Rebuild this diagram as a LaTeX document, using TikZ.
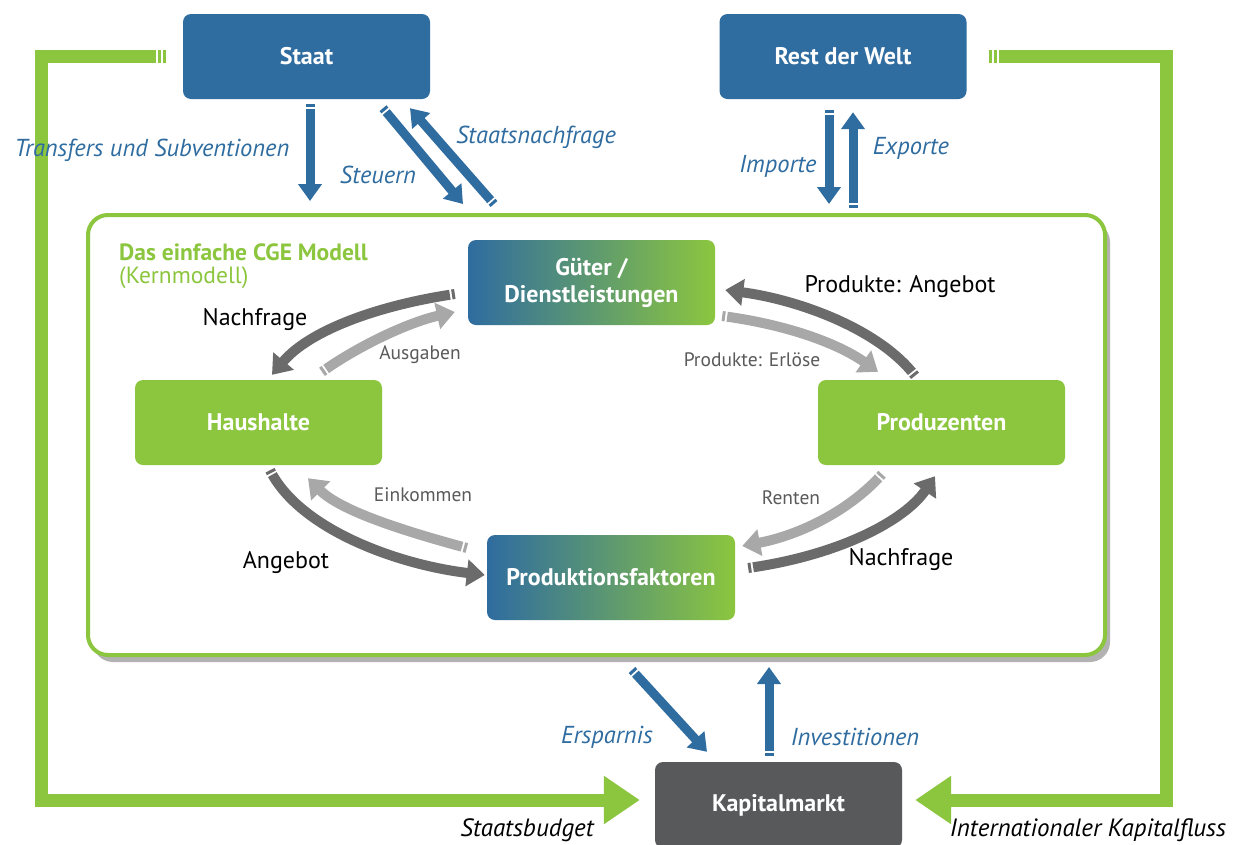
\documentclass[tikz,border=0pt]{standalone}
\usepackage{fontspec}
\setmainfont{PT Sans}
\usetikzlibrary{arrows.meta,shadows,calc}

\definecolor{cgeblue}{HTML}{2F6CA0}
\definecolor{cgegreen}{HTML}{8CC63F}
\definecolor{cgedark}{HTML}{58595B}
\definecolor{flowdark}{HTML}{6B6B6B}
\definecolor{flowlight}{HTML}{A8A8A8}
\definecolor{labelgrey}{HTML}{5A5A5A}

\tikzset{
  box/.style={rounded corners=8pt, minimum width=247pt, minimum height=85pt,
              text=white, font=\fontsize{24}{27}\selectfont\bfseries, align=center, inner sep=0pt},
  bluebox/.style={box, fill=cgeblue},
  greenbox/.style={box, fill=cgegreen},
  gradbox/.style={box, left color=cgeblue, right color=cgegreen},
  darkbox/.style={box, fill=cgedark},
  bluearrow/.style={draw=cgeblue, line width=9pt,
              dash pattern=on 3pt off 2pt on 3000pt,
              -{Triangle[length=17pt,width=23pt]}},
  framearrow/.style={draw=cgegreen, line width=13pt,
              dash pattern=on 3pt off 2pt on 3pt off 2pt on 5000pt,
              -{Triangle[length=36pt,width=46pt]}},
  flow/.style={line width=10pt, dash pattern=on 3pt off 2pt on 3000pt,
              -{Triangle[length=18pt,width=26pt]}},
  darkflow/.style={flow, draw=flowdark},
  lightflow/.style={flow, draw=flowlight},
  bluelabel/.style={text=cgeblue, font=\fontsize{24.5}{26}\selectfont\itshape, inner sep=0pt},
  blacklabel/.style={text=black, font=\fontsize{24}{26}\selectfont, inner sep=0pt},
  greylabel/.style={text=labelgrey, font=\fontsize{19.5}{21}\selectfont, inner sep=0pt},
  footlabel/.style={text=black, font=\fontsize{25}{27}\selectfont\itshape, inner sep=0pt},
}

\begin{document}
\begin{tikzpicture}[x=1pt, y=-1pt]
  \useasboundingbox (0,0) rectangle (1237,844);
  \clip (0,0) rectangle (1237,844);
  \fill[white] (0,0) rectangle (1237,844);

  % core model frame
  \node[draw=cgegreen, line width=4pt, fill=white, rounded corners=20pt,
        minimum width=1017pt, minimum height=440pt, inner sep=0pt,
        drop shadow={shadow xshift=5pt, shadow yshift=-7pt, opacity=0.5, fill=black!60}]
        (core) at (596.5,435) {};
  \node[anchor=north west, align=left, text=cgegreen, inner sep=0pt,
        font=\fontsize{23.5}{23}\selectfont] (coretitle) at (119,244)
        {\textbf{Das einfache CGE Modell}\\(Kernmodell)};

  % sectors outside the core
  \node[bluebox] (staat) at (306.5,56.5) {Staat};
  \node[bluebox] (rdw) at (843,56.5) {Rest der Welt};
  \node[darkbox, minimum height=86pt] (kap) at (778.5,805) {Kapitalmarkt};

  % sectors inside the core
  \node[gradbox] (gueter) at (591.5,282.5) {Güter /\\Dienstleistungen};
  \node[greenbox] (haus) at (258.5,422.5) {Haushalte};
  \node[greenbox] (prod) at (941.5,422.5) {Produzenten};
  \node[gradbox, minimum width=248pt] (fakt) at (611,577.5) {Produktionsfaktoren};

  % capital flows around the whole economy
  \draw[framearrow] ($(staat.west)+(-17,0)$) -- ++(-124,0) |- ($(kap.west)+(-15,-5)$);
  \draw[framearrow] ($(rdw.east)+(22,0)$) -- ++(178,0) |- ($(kap.east)+(13,-5)$);
  \node[footlabel] (lbudget) at (527,830) {Staatsbudget};
  \node[footlabel] (lkapfluss) at (1088,830) {Internationaler Kapitalfluss};

  % government and foreign flows
  \draw[bluearrow] ($(staat.south)+(3.5,5)$) -- ($(core.north)+(-286.5,-12)$);
  \draw[bluearrow] ($(staat.south)+(76.5,9)$) -- ($(core.north)+(-133.5,-9)$);
  \draw[bluearrow] ($(core.north)+(-102.5,-9)$) -- ($(staat.south)+(103.5,9)$);
  \draw[bluearrow] ($(rdw.south)+(-14,11)$) -- ($(core.north)+(232.5,-9)$);
  \draw[bluearrow] ($(core.north)+(256.5,-5)$) -- ($(rdw.south)+(10,13)$);
  \draw[bluearrow] ($(core.south)+(35.5,13)$) -- ($(kap.north)+(-71.5,-10)$);
  \draw[bluearrow] ($(kap.north)+(-9.5,-6)$) -- ($(core.south)+(172.5,10)$);

  \node[bluelabel] (ltransfer) at (152,150) {Transfers und Subventionen};
  \node[bluelabel] (lsteuern) at (378,175) {Steuern};
  \node[bluelabel] (lstaatnf) at (536,137) {Staatsnachfrage};
  \node[bluelabel] (limporte) at (778,166) {Importe};
  \node[bluelabel] (lexporte) at (911,148) {Exporte};
  \node[bluelabel] (lersparnis) at (607,737) {Ersparnis};
  \node[bluelabel] (linvest) at (855,737) {Investitionen};

  % circular flow inside the core model
  \draw[darkflow] ($(gueter.west)+(-13,11.5)$) .. controls +(-75,11) and +(38,-45) .. ($(haus.north)+(13.5,-5)$);
  \draw[lightflow] ($(haus.north)+(63.5,-8)$) .. controls +(38,-27) and +(-45,10) .. ($(gueter.west)+(-13,29.5)$);
  \draw[darkflow] ($(prod.north)+(-26.5,-4)$) .. controls +(-35,-46) and +(75,10) .. ($(gueter.east)+(10,7.5)$);
  \draw[lightflow] ($(gueter.east)+(7,33.5)$) .. controls +(68,9) and +(-38,-27) .. ($(prod.north)+(-63.5,-8)$);
  \draw[lightflow] ($(fakt.west)+(-20,-29.5)$) .. controls +(-67,-18) and +(32,32) .. ($(haus.south)+(49.5,13)$);
  \draw[darkflow] ($(haus.south)+(11.5,5)$) .. controls +(30,60) and +(-85,-10) .. ($(fakt.west)+(-2,-2.5)$);
  \draw[lightflow] ($(prod.south)+(-59.5,9)$) .. controls +(-32,36) and +(58,-11) .. ($(fakt.east)+(7,-31.5)$);
  \draw[darkflow] ($(fakt.east)+(13,-9.5)$) .. controls +(92,-13) and +(-30,44) .. ($(prod.south)+(-6.5,11)$);

  \node[blacklabel] (lnfhaus) at (255,320) {Nachfrage};
  \node[greylabel] (lausgaben) at (420,355) {Ausgaben};
  \node[blacklabel] (lprodang) at (900,287) {Produkte: Angebot};
  \node[greylabel] (lerloese) at (752,360) {Produkte: Erlöse};
  \node[greylabel] (leinkommen) at (423,495) {Einkommen};
  \node[blacklabel] (langebot) at (286,563) {Angebot};
  \node[greylabel] (lrenten) at (791,498) {Renten};
  \node[blacklabel] (lnfprod) at (901,560) {Nachfrage};
\end{tikzpicture}
\end{document}
